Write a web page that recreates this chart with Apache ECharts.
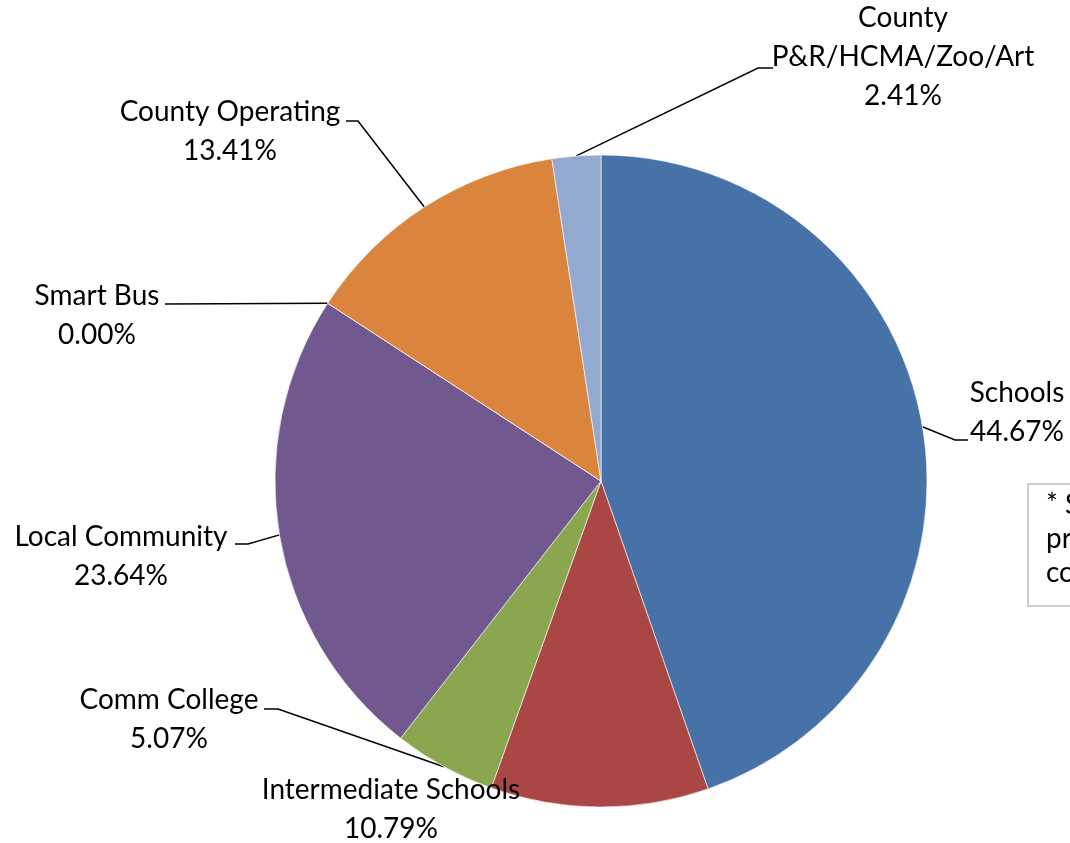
<!DOCTYPE html>
<html lang="en">
<head>
    <meta charset="UTF-8">
    <style>
        html, body { margin: 0; padding: 0; background: #fff; }
        #main { width: 1070px; height: 843px; }
    </style>
    <title>Millage</title>
</head>
<body>
    <div id="main"></div>
    <script src="https://cdn.jsdelivr.net/npm/echarts@6/dist/echarts.min.js"></script>
    <script>
        // data
        var categories = ['Schools', 'Intermediate Schools', 'Comm College', 'Local Community',
            'Smart Bus', 'County Operating', 'County\nP&R/HCMA/Zoo/Art'];
        var shares = [44.67, 10.79, 5.07, 23.64, 0.00, 13.41, 2.41];
        var noteLines = ['* S', 'pr', 'co'];

        // Excel 2007 palette
        var colors = ['#4672a8', '#aa4744', '#8aa64f', '#71598f', '#4198af', '#db843d', '#93a9cf'];

        // where each label sits + where its leader line ends (elbow x, end x, line y)
        var labelPos = [
            { x: 1017, y: 412, bx: 955, ex: 968, ly: 440 },
            { x: 391, y: 809, noLine: true },
            { x: 169, y: 719, bx: 278, ex: 264, ly: 709 },
            { x: 121, y: 556, bx: 248, ex: 235, ly: 544 },
            { x: 97, y: 315, bx: 165, ex: 165, ly: 304 },
            { x: 230, y: 131, bx: 358, ex: 346, ly: 121 },
            { x: 903, y: 57, bx: 758, ex: 773, ly: 68 }
        ];

        var fontFamily = 'Lato, "Noto Sans", sans-serif';
        // fit font so "County Operating" is ~224px wide like the original
        var ctx = document.createElement('canvas').getContext('2d');
        ctx.font = '100px ' + fontFamily;
        var fontSize = Math.round(224 / ctx.measureText('County Operating').width * 100);

        var pieData = categories.map(function (name, i) {
            var item = { name: name, value: shares[i], itemStyle: { color: colors[i] } };
            if (labelPos[i].noLine) item.labelLine = { show: false };
            return item;
        });

        var option = {
            backgroundColor: '#fff',
            animation: false,
            series: [{
                type: 'pie',
                center: [601, 481],
                radius: 326,
                startAngle: 90,
                clockwise: true,
                avoidLabelOverlap: false,
                itemStyle: {
                    borderColor: '#fff',
                    borderWidth: 0.6
                },
                label: {
                    show: true,
                    position: 'outer',
                    color: '#000',
                    fontFamily: fontFamily,
                    fontSize: fontSize,
                    lineHeight: 39,
                    align: 'center',
                    formatter: function (p) {
                        return p.name + '\n' + p.value.toFixed(2) + '%';
                    }
                },
                labelLine: {
                    show: true,
                    length: 20,
                    length2: 10,
                    lineStyle: { color: '#000', width: 1.5 }
                },
                labelLayout: function (params) {
                    var pos = labelPos[params.dataIndex];
                    var res = { x: pos.x, y: pos.y, align: 'center', verticalAlign: 'middle' };
                    if (!pos.noLine && params.labelLinePoints) {
                        var p0 = params.labelLinePoints[0];
                        res.labelLinePoints = [p0, [pos.bx, pos.ly], [pos.ex, pos.ly]];
                    }
                    return res;
                },
                data: pieData
            }],
            graphic: [{
                type: 'rect',
                shape: { x: 1028, y: 484, width: 100, height: 122 },
                style: { fill: '#fff', stroke: '#bfbfbf', lineWidth: 1.5 }
            }].concat(noteLines.map(function (t, i) {
                return {
                    type: 'text',
                    left: 1046,
                    top: 491 + i * 34,
                    style: { text: t, fill: '#000', font: fontSize + 'px ' + fontFamily }
                };
            }))
        };

        var myChart = echarts.init(document.getElementById('main'));
        myChart.setOption(option);
    </script>
</body>
</html>
